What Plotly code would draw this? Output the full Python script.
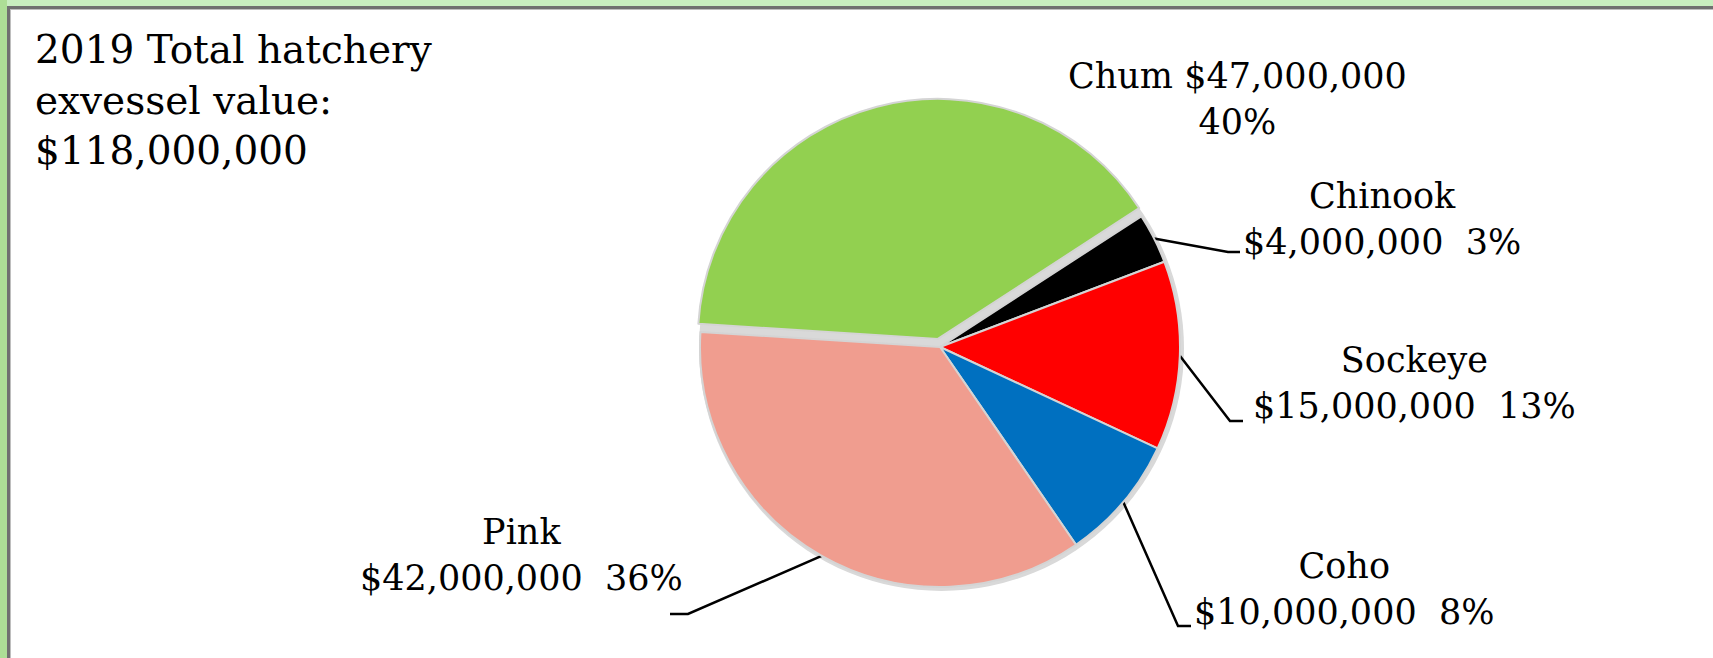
import math

import plotly.graph_objects as go

W, H = 1713, 658

# 2019 hatchery exvessel value by species, $ millions
species = ["Chinook", "Sockeye", "Coho", "Pink", "Chum"]
value_musd = [4, 15, 10, 42, 47]
colors = ["#000000", "#FF0000", "#0070C0", "#F09D8F", "#92D050"]
pulls = [0, 0, 0, 0, 0.035]

total = sum(value_musd)
pct = [round(v / total * 100) for v in value_musd]

# pie geometry in pixels (y down)
cx, cy, r = 940, 347, 240
rotation = 57

# label layout: text centre x, text middle y, elbow point, end point (None = no leader)
label_pos = {
    "Chinook": (1382, 219, (1228, 252), (1240, 252)),
    "Sockeye": (1414, 383, (1230, 421), (1243, 421)),
    "Coho": (1344, 589, (1178, 626), (1191, 626)),
    "Pink": (521, 555, (688, 614), (670, 614)),
    "Chum": (1237, 99, None, None),
}

font_serif = "DejaVu Serif"


def money(v):
    return "${:,.0f}".format(v * 1e6)


fig = go.Figure()

fig.add_trace(go.Pie(
    labels=species, values=value_musd, sort=False, direction="clockwise",
    rotation=rotation, pull=pulls, textinfo="none", hoverinfo="label+value+percent",
    marker=dict(colors=colors, line=dict(color="#D4D4D4", width=2)),
    showlegend=False,
    domain=dict(x=[(cx - r * (1 + max(pulls))) / W, (cx + r * (1 + max(pulls))) / W],
                y=[1 - (cy + r * (1 + max(pulls))) / H, 1 - (cy - r * (1 + max(pulls))) / H]),
))

# leader lines from slice mid-angle on the rim to the labels
lx, ly = [], []
cum = 0
for name, v in zip(species, value_musd):
    mid = math.radians(rotation + 360 * (cum + v / 2) / total)
    cum += v
    _, _, elbow, end = label_pos[name]
    if elbow is None:
        continue
    ax = cx + r * math.sin(mid)
    ay = cy - r * math.cos(mid)
    lx += [ax, elbow[0], end[0], None]
    ly += [ay, elbow[1], end[1], None]

fig.add_trace(go.Scatter(x=lx, y=ly, mode="lines", line=dict(color="black", width=2.5),
                         hoverinfo="skip", showlegend=False))

annotations = [dict(
    x=33, y=25, xref="x", yref="y", xanchor="left", yanchor="top", showarrow=False,
    align="left", text="2019 Total hatchery<br>exvessel value:<br>" + money(total),
    font=dict(family=font_serif, size=39, color="black"),
)]
for name, v, p in zip(species, value_musd, pct):
    tx, ty, _, _ = label_pos[name]
    if name == "Chum":
        txt = "{} {}<br>{}%".format(name, money(v), p)
    else:
        txt = "{}<br>{}\u00a0 {}%".format(name, money(v), p)
    annotations.append(dict(
        x=tx, y=ty, xref="x", yref="y", xanchor="center", yanchor="middle",
        showarrow=False, align="center", text=txt,
        font=dict(family=font_serif, size=35, color="black"),
    ))

shapes = [
    # soft shadow under the pie
    dict(type="circle", xref="x", yref="y", x0=cx - r - 1, x1=cx + r + 4,
         y0=cy - r - 1, y1=cy + r + 4, fillcolor="#D9D9D9", line=dict(width=0), layer="below"),
    # slide frame
    dict(type="rect", xref="x", yref="y", x0=0, x1=W, y0=0, y1=6,
         fillcolor="#C9EEC0", line=dict(width=0), layer="above"),
    dict(type="rect", xref="x", yref="y", x0=0, x1=7, y0=0, y1=H,
         fillcolor="#ADDE96", line=dict(width=0), layer="above"),
    dict(type="rect", xref="x", yref="y", x0=7, x1=W, y0=6, y1=9,
         fillcolor="#707070", line=dict(width=0), layer="above"),
    dict(type="rect", xref="x", yref="y", x0=7, x1=10, y0=6, y1=H,
         fillcolor="#707070", line=dict(width=0), layer="above"),
    dict(type="rect", xref="x", yref="y", x0=10, x1=W, y0=9, y1=10,
         fillcolor="#BEBEBE", line=dict(width=0), layer="above"),
    dict(type="rect", xref="x", yref="y", x0=10, x1=11, y0=9, y1=H,
         fillcolor="#BEBEBE", line=dict(width=0), layer="above"),
]

fig.update_layout(
    width=W, height=H, margin=dict(l=0, r=0, t=0, b=0),
    paper_bgcolor="white", plot_bgcolor="white",
    xaxis=dict(range=[0, W], visible=False, fixedrange=True),
    yaxis=dict(range=[H, 0], visible=False, fixedrange=True),
    annotations=annotations, shapes=shapes,
)

# remove the default page margin so the figure sits at the window origin
fig.write_html("out.html", config={"displayModeBar": False},
               post_script="document.body.style.margin='0';document.body.style.overflow='hidden';")
